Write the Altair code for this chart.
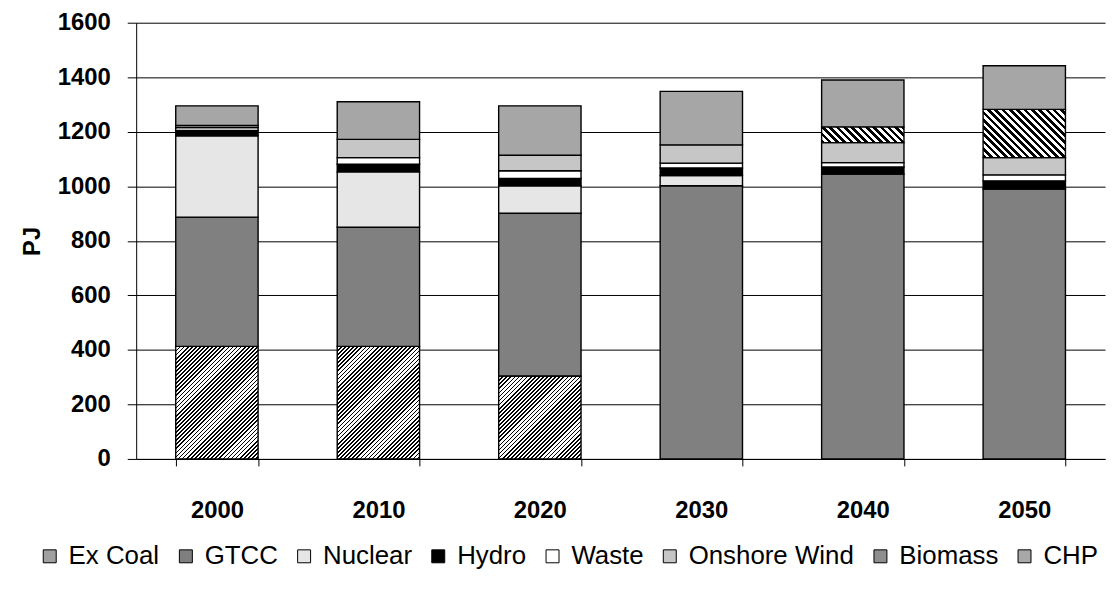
import math
import altair as alt

# ---- data ----
years = ["2000", "2010", "2020", "2030", "2040", "2050"]
series = ["Ex Coal", "GTCC", "Nuclear", "Hydro", "Waste", "Onshore Wind", "Biomass", "CHP"]
ex_coal = [413, 413, 304, 0, 0, 0]
gtcc = [474, 437, 597, 1002, 1045, 990]
nuclear = [298, 203, 101, 37, 0, 0]
hydro = [20, 28, 27, 28, 26, 30]
waste = [10, 24, 28, 18, 16, 22]
onshore_wind = [8, 67, 57, 67, 73, 63]
biomass = [0, 0, 0, 0, 58, 177]
chp = [72, 138, 181, 196, 172, 160]
y_ticks = [0, 200, 400, 600, 800, 1000, 1200, 1400, 1600]

values_by_series = [ex_coal, gtcc, nuclear, hydro, waste, onshore_wind, biomass, chp]

# ---- layout / style ----
PLOT_W, PLOT_H = 975, 439
PAD_INNER = 0.49
Y_MAX = 1600
FONT = "Liberation Sans"

legend_colors = ["#a0a0a0", "#7f7f7f", "#e6e6e6", "#000000", "#ffffff", "#c6c6c6", "#8e8e8e", "#a8a8a8"]
solid_fill = {
    "GTCC": "#808080", "Nuclear": "#e6e6e6", "Hydro": "#000000", "Waste": "#ffffff",
    "Onshore Wind": "#c6c6c6", "CHP": "#a6a6a6",
}
hatch_style = {"Ex Coal": ("/", 2.9, 0.42), "Biomass": ("\\", 5.2, 0.5)}

bandwidth = (PLOT_W / len(years)) * (1 - PAD_INNER)
px_per_unit = PLOT_H / Y_MAX


def hatch(value, direction, period, frac):
    w = bandwidth
    h = value * px_per_unit
    r = h / w
    s = (1 + r) / (1 + r * r)
    n = (w + h) / (math.sqrt(2) * period)
    dt = 1.0 / n
    stops = []
    k = 0
    while k * dt < 1:
        a = k * dt
        b = min(a + frac * dt, 1.0)
        c = min(a + dt, 1.0)
        stops += [
            {"offset": round(a, 5), "color": "black"},
            {"offset": round(b, 5), "color": "black"},
            {"offset": round(b, 5), "color": "white"},
            {"offset": round(c, 5), "color": "white"},
        ]
        k += 1
    if direction == "/":
        return {"gradient": "linear", "x1": 0, "y1": 0, "x2": s, "y2": s * r, "stops": stops}
    return {"gradient": "linear", "x1": 0, "y1": 1, "x2": s, "y2": 1 - s * r, "stops": stops}


rows = []
for si, (name, vals) in enumerate(zip(series, values_by_series)):
    for year, v in zip(years, vals):
        if v <= 0:
            continue
        if name in hatch_style:
            d, p, f = hatch_style[name]
            pat = hatch(v, d, p, f)
        else:
            pat = solid_fill[name]
        rows.append({"year": year, "series": name, "value": v, "order": si, "pat": pat})

base = alt.Chart(alt.Data(values=rows)).transform_stack(
    stack="value", groupby=["year"], sort=[alt.SortField("order")], as_=["y0", "y1"]
)

x_enc = alt.X(
    "year:N",
    sort=years,
    scale=alt.Scale(paddingInner=PAD_INNER, paddingOuter=PAD_INNER / 2),
    axis=alt.Axis(
        title=None, labelAngle=0, labelFont=FONT, labelFontSize=24, labelFontWeight="bold",
        labelColor="black", tickBand="extent", tickSize=7, tickColor="black",
        domainColor="black", labelPadding=33,
    ),
)
y_enc = alt.Y(
    "y0:Q",
    stack=None,
    scale=alt.Scale(domain=[0, Y_MAX], nice=False),
    axis=alt.Axis(
        title="PJ", values=y_ticks, format="d", labelFont=FONT, labelFontSize=24,
        labelFontWeight="bold", labelColor="black", titleFont=FONT, titleFontSize=24,
        titleFontWeight="bold", titleColor="black", titlePadding=13, tickSize=9,
        tickColor="black", domainColor="black", labelPadding=17, grid=True,
        gridColor="black", gridWidth=1,
    ),
)

legend_layer = base.mark_bar().encode(
    x=x_enc,
    y=y_enc,
    y2="y1:Q",
    color=alt.Color(
        "series:N",
        scale=alt.Scale(domain=series, range=legend_colors),
        legend=alt.Legend(
            title=None, orient="none", direction="horizontal", legendX=-100, legendY=524,
            symbolType="square", symbolSize=170, symbolStrokeColor="black",
            symbolStrokeWidth=1, labelFont=FONT, labelFontSize=26, labelColor="black",
            labelOffset=6, columnPadding=13, labelLimit=300,
        ),
    ),
)

pattern_layer = base.mark_bar(stroke="black", strokeWidth=1.4).encode(
    x=x_enc,
    y=y_enc,
    y2="y1:Q",
    fill=alt.Fill("pat:N", scale=None, legend=None),
)

chart = (
    alt.layer(legend_layer, pattern_layer)
    .properties(
        width=PLOT_W,
        height=PLOT_H,
        autosize="none",
        padding={"left": 129, "top": 13, "right": 1, "bottom": 115},
        background="white",
    )
    .configure_view(stroke=None)
)

chart.save("out.html", embed_options={"renderer": "svg", "actions": False})
